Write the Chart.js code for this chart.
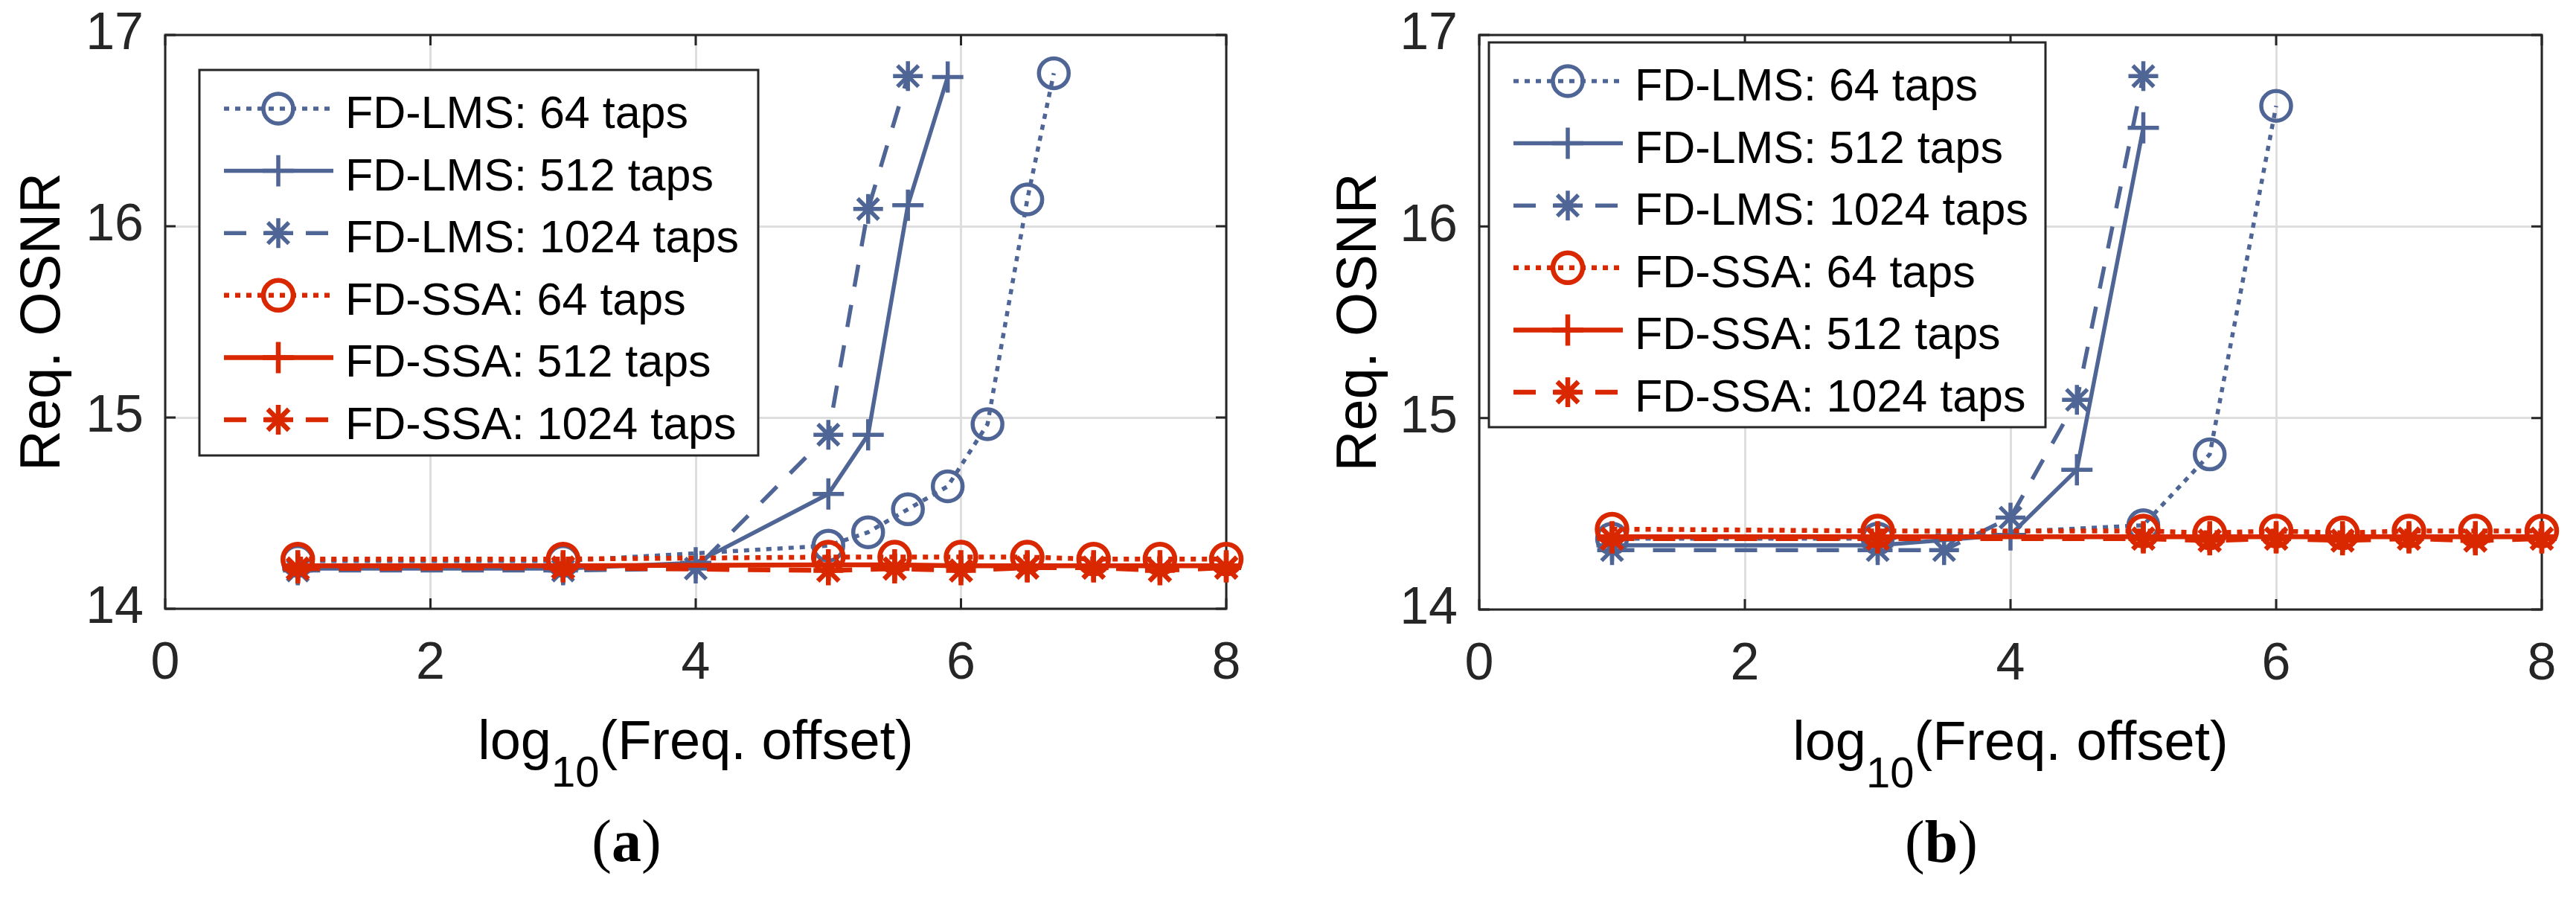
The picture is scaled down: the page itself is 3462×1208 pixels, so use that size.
<!DOCTYPE html>
<html>
<head>
<meta charset="utf-8">
<title>Req. OSNR vs log10(Freq. offset)</title>
<script src="https://cdn.jsdelivr.net/npm/chart.js@4.4.1/dist/chart.umd.min.js"></script>
<style>
  html, body { margin: 0; padding: 0; background: #fff; }
  body { width: 3462px; height: 1208px; position: relative; overflow: hidden; }
  canvas { position: absolute; top: 0; }
  #chartA { left: 0; }
  #chartB { left: 1731px; }
</style>
</head>
<body>
<canvas id="chartA" width="1731" height="1208"></canvas>
<canvas id="chartB" width="1731" height="1208"></canvas>
<script>
// ---- data ----
const seriesLabels = ['FD-LMS: 64 taps', 'FD-LMS: 512 taps', 'FD-LMS: 1024 taps',
                      'FD-SSA: 64 taps', 'FD-SSA: 512 taps', 'FD-SSA: 1024 taps'];
const xTicks = [0, 2, 4, 6, 8];
const yTicks = [14, 15, 16, 17];

// FD-SSA points sit on the same offsets in both panels
const xSSA = [1, 3, 5, 5.5, 6, 6.5, 7, 7.5, 8];

// panel (a)
const xA_LMS64 = [1, 3, 5, 5.3, 5.6, 5.9, 6.2, 6.5, 6.7];
const yA_LMS64 = [14.25, 14.25, 14.33, 14.40, 14.52, 14.64, 14.965, 16.14, 16.80];
const xA_LMS512 = [1, 3, 4, 5, 5.3, 5.6, 5.9];
const yA_LMS512 = [14.21, 14.21, 14.24, 14.60, 14.91, 16.11, 16.78];
const xA_LMS1024 = [1, 3, 4, 5, 5.3, 5.6];
const yA_LMS1024 = [14.20, 14.20, 14.21, 14.91, 16.09, 16.785];
const yA_SSA64 = [14.26, 14.26, 14.27, 14.27, 14.27, 14.27, 14.26, 14.26, 14.26];
const yA_SSA512 = [14.225, 14.225, 14.23, 14.23, 14.225, 14.225, 14.225, 14.225, 14.225];
const yA_SSA1024 = [14.21, 14.215, 14.20, 14.21, 14.20, 14.215, 14.215, 14.20, 14.215];

// panel (b)
const xB_LMS64 = [1, 3, 5, 5.5, 6];
const yB_LMS64 = [14.37, 14.37, 14.44, 14.81, 16.63];
const xB_LMS512 = [1, 3, 4, 4.5, 5];
const yB_LMS512 = [14.335, 14.335, 14.39, 14.73, 16.515];
const xB_LMS1024 = [1, 3, 3.5, 4, 4.5, 5];
const yB_LMS1024 = [14.31, 14.31, 14.31, 14.48, 15.095, 16.785];
const yB_SSA64 = [14.42, 14.41, 14.41, 14.40, 14.41, 14.40, 14.41, 14.41, 14.41];
const yB_SSA512 = [14.38, 14.38, 14.38, 14.38, 14.38, 14.38, 14.38, 14.38, 14.38];
const yB_SSA1024 = [14.37, 14.37, 14.37, 14.36, 14.37, 14.36, 14.37, 14.36, 14.37];

// ---- styling ----
const BLUE = '#4F6595';
const RED = '#D92800';
const DOT = [7, 8];
const DASH = [30, 25];
const SANS = '"Liberation Sans", Arial, Helvetica, sans-serif';
const SERIF = '"Liberation Serif", "Times New Roman", serif';

const styles = [
  { color: BLUE, dash: DOT, point: 'circle', r: 20, lw: 5.5, pw: 5.5 },
  { color: BLUE, dash: [], point: 'cross', r: 21, lw: 5.5, pw: 5.5 },
  { color: BLUE, dash: DASH, point: 'star', r: 20, lw: 5.5, pw: 5.5 },
  { color: RED, dash: DOT, point: 'circle', r: 20, lw: 6.5, pw: 6.5 },
  { color: RED, dash: [], point: 'cross', r: 21, lw: 6.5, pw: 6.5 },
  { color: RED, dash: DASH, point: 'star', r: 20, lw: 6.5, pw: 6.5 }
];

function buildDatasets(xs, ys) {
  return seriesLabels.map((label, i) => {
    const s = styles[i];
    return {
      label: label,
      data: xs[i].map((x, j) => ({ x: x, y: ys[i][j] })),
      borderColor: s.color,
      backgroundColor: 'rgba(0,0,0,0)',
      borderWidth: s.lw,
      borderDash: s.dash,
      pointStyle: s.point,
      pointRadius: s.r,
      pointHoverRadius: s.r,
      pointBorderWidth: s.pw,
      pointBorderColor: s.color,
      pointBackgroundColor: 'rgba(0,0,0,0)',
      tension: 0,
      fill: false,
      clip: false,
      order: s.color === RED ? 0 : 1   // red curves on top
    };
  });
}

// box with inward ticks on all four sides, under the data
const framePlugin = {
  id: 'frame',
  beforeDatasetsDraw(chart) {
    const { ctx, chartArea: a, scales: { x, y } } = chart;
    const len = 14;
    ctx.save();
    ctx.strokeStyle = '#262626';
    ctx.lineWidth = 3;
    ctx.setLineDash([]);
    ctx.beginPath();
    x.ticks.forEach(t => {
      const px = x.getPixelForValue(t.value);
      ctx.moveTo(px, a.bottom); ctx.lineTo(px, a.bottom - len);
      ctx.moveTo(px, a.top); ctx.lineTo(px, a.top + len);
    });
    y.ticks.forEach(t => {
      const py = y.getPixelForValue(t.value);
      ctx.moveTo(a.left, py); ctx.lineTo(a.left + len, py);
      ctx.moveTo(a.right, py); ctx.lineTo(a.right - len, py);
    });
    ctx.stroke();
    ctx.strokeRect(a.left, a.top, a.right - a.left, a.bottom - a.top);
    ctx.restore();
  }
};

function marker(ctx, style, radius, bw, x, y) {
  if (Chart.helpers && Chart.helpers.drawPoint) {
    Chart.helpers.drawPoint(ctx, { pointStyle: style, rotation: 0, radius: radius, borderWidth: bw }, x, y);
    return;
  }
  ctx.beginPath();
  if (style === 'circle') {
    ctx.arc(x, y, radius, 0, Math.PI * 2);
  } else {
    ctx.moveTo(x, y - radius); ctx.lineTo(x, y + radius);
    ctx.moveTo(x - radius, y); ctx.lineTo(x + radius, y);
    if (style === 'star') {
      const o = Math.cos(Math.PI / 4) * radius;
      ctx.moveTo(x - o, y - o); ctx.lineTo(x + o, y + o);
      ctx.moveTo(x - o, y + o); ctx.lineTo(x + o, y - o);
    }
  }
  ctx.stroke();
}

// MATLAB-like legend box (line sample + marker + label)
const boxLegendPlugin = {
  id: 'boxLegend',
  afterDraw(chart, args, opts) {
    const { ctx, chartArea: a } = chart;
    const left = a.left + opts.dx, top = a.top + opts.dy;
    ctx.save();
    ctx.fillStyle = '#fff';
    ctx.fillRect(left, top, opts.width, opts.height);
    ctx.strokeStyle = '#262626';
    ctx.lineWidth = 3;
    ctx.setLineDash([]);
    ctx.strokeRect(left, top, opts.width, opts.height);
    chart.data.datasets.forEach((ds, i) => {
      const cy = top + 52 + i * 83.6;
      ctx.strokeStyle = ds.borderColor;
      ctx.lineWidth = ds.borderWidth;
      ctx.setLineDash(ds.borderDash);
      ctx.beginPath();
      ctx.moveTo(left + 33, cy);
      ctx.lineTo(left + 180, cy);
      ctx.stroke();
      ctx.setLineDash([]);
      ctx.fillStyle = 'rgba(0,0,0,0)';
      ctx.lineWidth = ds.pointBorderWidth;
      marker(ctx, ds.pointStyle, ds.pointRadius, ds.pointBorderWidth, left + 106, cy);
      ctx.fillStyle = '#000';
      ctx.font = '61px ' + SANS;
      ctx.textAlign = 'left';
      ctx.textBaseline = 'alphabetic';
      ctx.fillText(ds.label, left + 196, cy + 26);
    });
    ctx.restore();
  }
};

// x title with subscript, plus the panel tag under it
const xTitlePlugin = {
  id: 'xTitle',
  afterDraw(chart, args, opts) {
    const { ctx, chartArea: a } = chart;
    const cx = (a.left + a.right) / 2;
    const base = a.bottom + 202;
    const main = '74px ' + SANS, sub = '58px ' + SANS;
    ctx.save();
    ctx.fillStyle = '#000';
    ctx.textAlign = 'left';
    ctx.textBaseline = 'alphabetic';
    ctx.font = main;
    const w1 = ctx.measureText('log').width;
    const w3 = ctx.measureText('(Freq. offset)').width;
    ctx.font = sub;
    const w2 = ctx.measureText('10').width;
    let x = cx - (w1 + w2 + w3) / 2;
    ctx.font = main; ctx.fillText('log', x, base); x += w1;
    ctx.font = sub; ctx.fillText('10', x, base + 37); x += w2;
    ctx.font = main; ctx.fillText('(Freq. offset)', x, base);

    // "(a)" / "(b)" with the letter in bold
    const reg = '80px ' + SERIF, bold = 'bold 80px ' + SERIF;
    ctx.font = reg;
    const pw = ctx.measureText('(').width, qw = ctx.measureText(')').width;
    ctx.font = bold;
    const lw = ctx.measureText(opts.tag).width;
    let tx = cx - 93 - (pw + lw + qw) / 2;
    const tb = a.bottom + 339;
    ctx.font = reg; ctx.fillText('(', tx, tb); tx += pw;
    ctx.font = bold; ctx.fillText(opts.tag, tx, tb); tx += lw;
    ctx.font = reg; ctx.fillText(')', tx, tb);
    ctx.restore();
  }
};

function makeChart(id, datasets, cfg) {
  return new Chart(document.getElementById(id), {
    type: 'line',
    data: { datasets: datasets },
    plugins: [framePlugin, boxLegendPlugin, xTitlePlugin],
    options: {
      responsive: false,
      animation: false,
      events: [],
      layout: { padding: { left: 0, right: cfg.padRight, top: 47, bottom: 0 } },
      plugins: {
        legend: { display: false },
        tooltip: { enabled: false },
        boxLegend: cfg.legend,
        xTitle: { tag: cfg.tag }
      },
      scales: {
        x: {
          type: 'linear',
          min: 0,
          max: 8,
          afterBuildTicks: s => { s.ticks = xTicks.map(v => ({ value: v })); },
          afterFit: s => {
            s.height = cfg.xHeight;
            s.paddingLeft = 0; s.paddingRight = 0;
          },
          grid: { color: '#dedede', lineWidth: 3, drawTicks: false },
          border: { display: false },
          ticks: {
            autoSkip: false,
            maxRotation: 0,
            padding: 33,
            color: '#262626',
            font: { family: SANS, size: 70 }
          }
        },
        y: {
          type: 'linear',
          min: 14,
          max: 17,
          afterBuildTicks: s => { s.ticks = yTicks.map(v => ({ value: v })); },
          afterFit: s => {
            s.width = cfg.yWidth;
            s.paddingTop = 0; s.paddingBottom = 0;
          },
          grid: { color: '#dedede', lineWidth: 3, drawTicks: false },
          border: { display: false },
          ticks: {
            padding: 29,
            color: '#262626',
            font: { family: SANS, size: 70 }
          },
          title: {
            display: true,
            text: 'Req. OSNR',
            color: '#000',
            font: { family: SANS, size: 76 },
            padding: { top: cfg.yTitlePad, bottom: 0 }
          }
        }
      }
    }
  });
}

makeChart('chartA',
  buildDatasets(
    [xA_LMS64, xA_LMS512, xA_LMS1024, xSSA, xSSA, xSSA],
    [yA_LMS64, yA_LMS512, yA_LMS1024, yA_SSA64, yA_SSA512, yA_SSA1024]),
  { tag: 'a', yWidth: 222, padRight: 83, xHeight: 390, yTitlePad: 13,
    legend: { dx: 46, dy: 47, width: 751, height: 518 } });

makeChart('chartB',
  buildDatasets(
    [xB_LMS64, xB_LMS512, xB_LMS1024, xSSA, xSSA, xSSA],
    [yB_LMS64, yB_LMS512, yB_LMS1024, yB_SSA64, yB_SSA512, yB_SSA1024]),
  { tag: 'b', yWidth: 257, padRight: 46, xHeight: 389, yTitlePad: 51,
    legend: { dx: 13, dy: 10, width: 748, height: 517 } });
</script>
</body>
</html>
